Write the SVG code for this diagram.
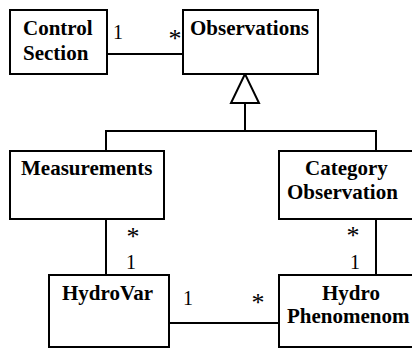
<svg xmlns="http://www.w3.org/2000/svg" width="412" height="349" viewBox="0 0 412 349">
<rect width="412" height="349" fill="#fff"/>
<g id="connectors" fill="none" stroke="#000" stroke-width="2">
<line x1="107" y1="54" x2="183" y2="54"/>
<polygon points="245,74 231,103 259,103" fill="#fff"/>
<polyline points="245,103 245,131"/>
<polyline points="106,151 106,131 376,131 376,151"/>
<line x1="106" y1="219" x2="106" y2="275"/>
<line x1="376" y1="219" x2="376" y2="275"/>
<line x1="169" y1="323" x2="279" y2="323"/>
</g>
<g id="multiplicities" fill="#000">
<text x="113" y="39" font-family="Liberation Serif, serif" font-size="20">1</text>
<text x="126" y="269" font-family="Liberation Serif, serif" font-size="20">1</text>
<text x="350" y="269" font-family="Liberation Serif, serif" font-size="20">1</text>
<text x="183" y="305" font-family="Liberation Serif, serif" font-size="20">1</text>
<text x="168.5" y="47" font-family="Liberation Serif, serif" font-size="26">*</text>
<text x="126.5" y="245" font-family="Liberation Serif, serif" font-size="26">*</text>
<text x="346.5" y="244" font-family="Liberation Serif, serif" font-size="26">*</text>
<text x="251.5" y="311" font-family="Liberation Serif, serif" font-size="26">*</text>
</g>
<g id="control-section">
<rect x="10" y="10" width="97" height="64" fill="#fff" stroke="#000" stroke-width="2"/>
<text x="23" y="35" font-family="Liberation Serif, serif" font-size="21" font-weight="bold">Control</text>
<text x="23" y="60" font-family="Liberation Serif, serif" font-size="21" font-weight="bold">Section</text>
</g>
<g id="observations">
<rect x="183" y="10" width="135" height="64" fill="#fff" stroke="#000" stroke-width="2"/>
<text x="190" y="35" font-family="Liberation Serif, serif" font-size="21" font-weight="bold">Observations</text>
</g>
<g id="measurements">
<rect x="10" y="151" width="154" height="68" fill="#fff" stroke="#000" stroke-width="2"/>
<text x="21" y="175" font-family="Liberation Serif, serif" font-size="21" font-weight="bold">Measurements</text>
</g>
<g id="category-observation">
<rect x="279" y="151" width="138" height="68" fill="#fff" stroke="#000" stroke-width="2"/>
<text x="305" y="175" font-family="Liberation Serif, serif" font-size="21" font-weight="bold">Category</text>
<text x="287" y="199" font-family="Liberation Serif, serif" font-size="21" font-weight="bold">Observation</text>
</g>
<g id="hydrovar">
<rect x="49" y="275" width="120" height="72" fill="#fff" stroke="#000" stroke-width="2"/>
<text x="62" y="300" font-family="Liberation Serif, serif" font-size="21" font-weight="bold">HydroVar</text>
</g>
<g id="hydro-phenomenom">
<rect x="279" y="275" width="138" height="72" fill="#fff" stroke="#000" stroke-width="2"/>
<text x="322" y="300" font-family="Liberation Serif, serif" font-size="21" font-weight="bold">Hydro</text>
<text x="287" y="323" font-family="Liberation Serif, serif" font-size="21" font-weight="bold">Phenomenom</text>
</g>
</svg>
